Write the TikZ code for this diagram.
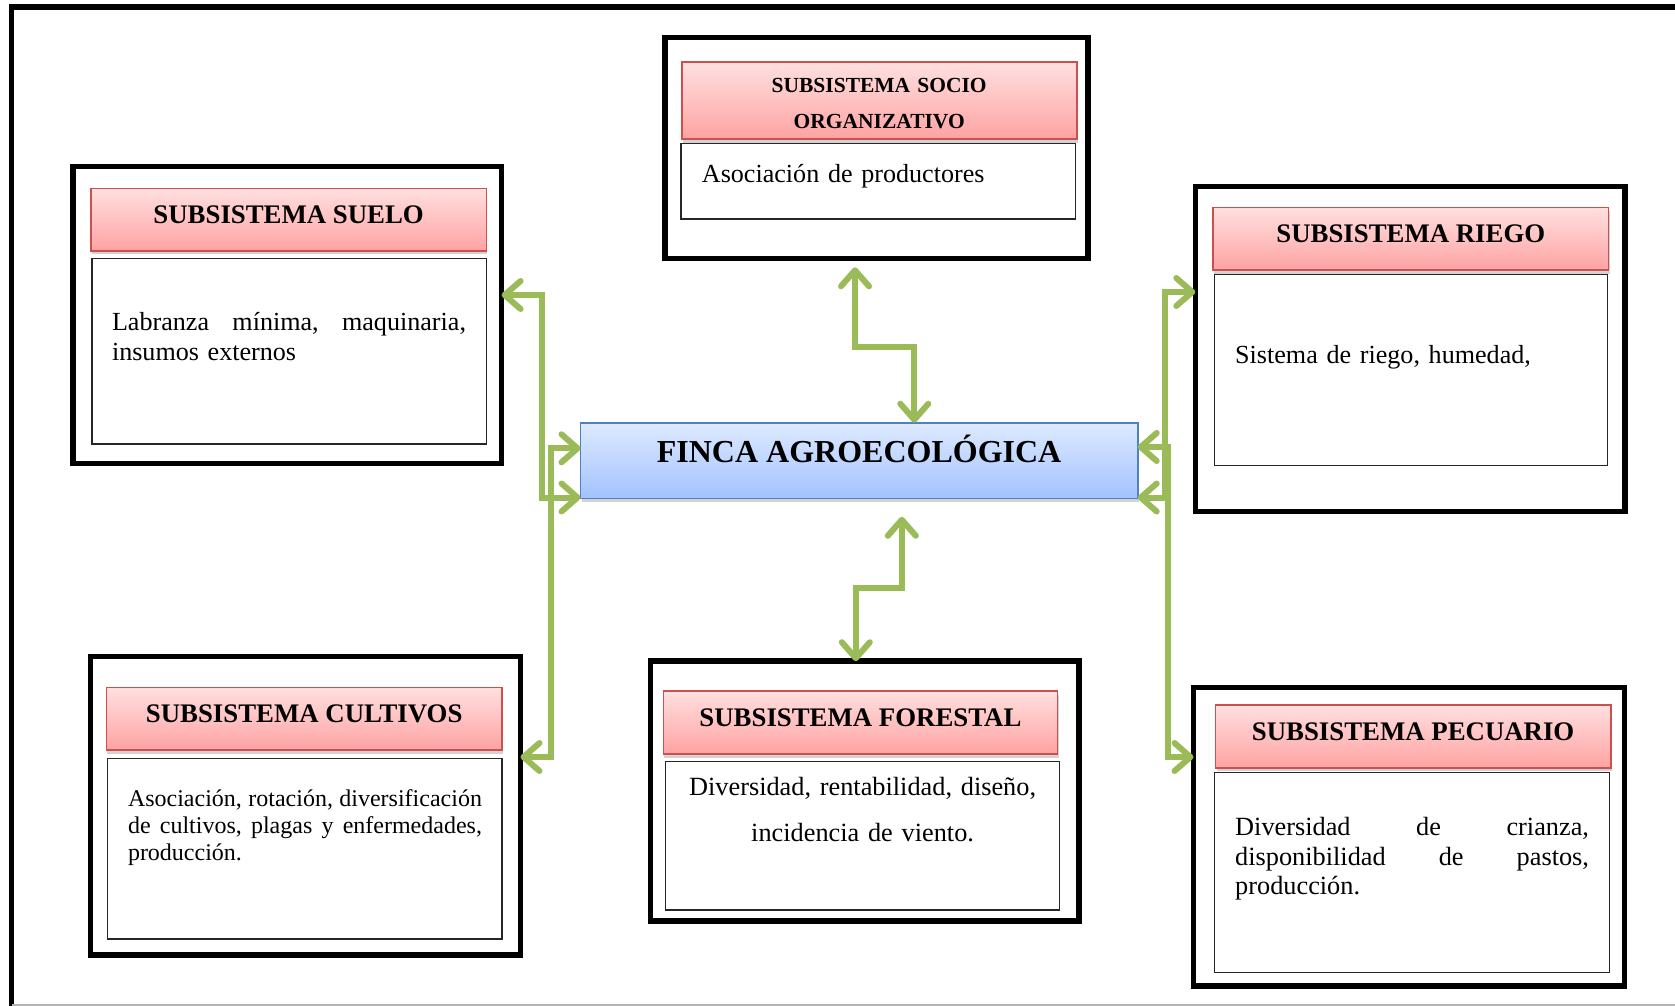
\documentclass[tikz,border=0pt]{standalone}
\usepackage{fontspec}
\setmainfont{Liberation Serif}
\usetikzlibrary{arrows.meta,shadows,calc}

\definecolor{hdtop}{RGB}{255,224,224}
\definecolor{hdbot}{RGB}{255,162,162}
\definecolor{hdline}{RGB}{204,80,78}
\definecolor{fktop}{RGB}{222,234,255}
\definecolor{fkbot}{RGB}{162,194,255}
\definecolor{fkline}{RGB}{79,129,189}
\definecolor{lnk}{RGB}{155,187,89}

% box from its top-left and bottom-right corners (y grows downwards)
\newcommand{\boxat}[6]{%
  \pgfmathsetmacro\bxw{#5-#3}%
  \pgfmathsetmacro\bxh{#6-#4}%
  \node[#1, anchor=north west, minimum width=\bxw pt, minimum height=\bxh pt] (#2) at (#3,#4) {};%
}

\tikzset{
  frameline/.style={line width=5.5pt, black},
  outerbox/.style={draw=black, line width=5.5pt, fill=white, inner sep=0pt, outer sep=0pt},
  headbox/.style={draw=hdline, line width=1.6pt, top color=hdtop, bottom color=hdbot,
    inner sep=0pt, outer sep=0pt,
    drop shadow={shadow xshift=1pt, shadow yshift=-3.5pt, opacity=.35}},
  bodybox/.style={draw=black!85, line width=1.3pt, fill=white, inner sep=0pt, outer sep=0pt},
  fincabox/.style={draw=fkline, line width=1.6pt, top color=fktop, bottom color=fkbot,
    inner sep=0pt, outer sep=0pt,
    drop shadow={shadow xshift=1pt, shadow yshift=-3.5pt, opacity=.35}},
  headtxt/.style={font=\fontsize{26.8}{32}\selectfont\bfseries, inner sep=0pt, anchor=base},
  bodytxt/.style={font=\fontsize{26.1}{30.5}\selectfont, inner sep=0pt, anchor=base west,
    align=left, text width=#1},
  barb/.tip={Straight Barb[length=16pt, width=28pt, round]},
  link/.style={draw=lnk, line width=6pt, line join=miter, barb-barb},
}

\begin{document}
\begin{tikzpicture}[x=1pt, y=-1pt]
\useasboundingbox (0,0) rectangle (1675,1006);

% page frame
\draw[frameline] (11.5,1006) -- (11.5,7) -- (1675,7);
\draw[gray!60, line width=1.5pt] (11.5,1005) -- (1675,1005);

% suelo
\boxat{outerbox}{sueloO}{73.2}{166.7}{501.6}{463.3}
\boxat{headbox}{sueloH}{91}{188.3}{486.3}{250.7}
\boxat{bodybox}{sueloB}{92}{258.3}{486.3}{444}
\node[headtxt] (sueloT) at ($(sueloH.north)+(0,35)$) {SUBSISTEMA SUELO};
\node[bodytxt=354pt] (sueloX) at (111.8,330)
  {Labranza\hfill mínima,\hfill maquinaria,\\insumos externos};

% socio organizativo
\boxat{outerbox}{socioO}{665}{37.3}{1088}{258.3}
\boxat{headbox}{socioH}{681.7}{62.3}{1076.7}{139.3}
\boxat{bodybox}{socioB}{681}{143.7}{1075.7}{219}
\node[headtxt, font=\fontsize{21.5}{36.4}\selectfont\bfseries, text width=380pt, align=center]
  (socioT) at ($(socioH.north)+(0,30)$) {SUBSISTEMA SOCIO\\ORGANIZATIVO};
\node[bodytxt=360pt] (socioX) at (701.7,182.7) {Asociación de productores};

% riego
\boxat{outerbox}{riegoO}{1195.3}{186.7}{1625}{511.7}
\boxat{headbox}{riegoH}{1213}{207.3}{1608.6}{270}
\boxat{bodybox}{riegoB}{1214.8}{274.3}{1607.5}{465.7}
\node[headtxt] (riegoT) at ($(riegoH.north)+(0,35)$) {SUBSISTEMA RIEGO};
\node[bodytxt=360pt] (riegoX) at (1235,363) {Sistema de riego, humedad,};

% finca
\boxat{fincabox}{fincaB}{580.5}{422.7}{1137.7}{498.3}
\node[headtxt, font=\fontsize{32}{36}\selectfont\bfseries] (fincaT)
  at ($(fincaB.north)+(0,40)$) {FINCA AGROECOLÓGICA};

% cultivos
\boxat{outerbox}{cultO}{90.3}{656.7}{520.5}{955}
\boxat{headbox}{cultH}{106.4}{687.3}{502}{750}
\boxat{bodybox}{cultB}{107.5}{758.3}{502}{939}
\node[headtxt] (cultT) at ($(cultH.north)+(0,35)$) {SUBSISTEMA CULTIVOS};
\node[bodytxt=354pt, font=\fontsize{24}{27.3}\selectfont] (cultX) at (127.8,806)
  {Asociación,\hfill rotación,\hfill diversificación\\de\hfill cultivos,\hfill plagas\hfill y\hfill enfermedades,\\producción.};

% forestal
\boxat{outerbox}{forestO}{650.5}{661.2}{1078.9}{920.8}
\boxat{headbox}{forestH}{663.4}{691}{1057.5}{754}
\boxat{bodybox}{forestB}{665.5}{761.6}{1059.7}{910}
\node[headtxt] (forestT) at ($(forestH.north)+(0,35)$) {SUBSISTEMA FORESTAL};
\node[headtxt, font=\fontsize{26.3}{46}\selectfont, text width=390pt, align=center]
  (forestX) at ($(forestB.north)+(0,33.4)$) {Diversidad, rentabilidad, diseño,\\incidencia de viento.};

% pecuario
\boxat{outerbox}{pecuO}{1193.5}{687.3}{1624.4}{986}
\boxat{headbox}{pecuH}{1215.5}{705}{1610.8}{767.7}
\boxat{bodybox}{pecuB}{1214.4}{772.7}{1609.7}{972.7}
\node[headtxt] (pecuT) at ($(pecuH.north)+(0,35)$) {SUBSISTEMA PECUARIO};
\node[bodytxt=353.8pt, font=\fontsize{26.3}{29.5}\selectfont] (pecuX) at (1235,835.7)
  {Diversidad\hfill de\hfill crianza,\\disponibilidad\hfill de\hfill pastos,\\producción.};

% connectors
\draw[link] ($(socioO.south -| 855,0)+(0,9)$) |- (914.3,346.7) -- (fincaB.north -| 914.3,0);
\draw[link] ($(fincaB.south -| 901.8,0)+(0,18.5)$) |- (855.8,588.3) -- (forestO.north -| 855.8,0);
\draw[link] (sueloO.east |- 0,295) -- (541.7,295) |- (fincaB.west |- 0,497.5);
\draw[link] (fincaB.west |- 0,448.3) -- (551,448.3) |- (cultO.east |- 0,757);
\draw[link] (riegoO.west |- 0,292) -- (1165,292) |- (fincaB.east |- 0,497.5);
\draw[link] (fincaB.east |- 0,447) -- (1167.5,447) |- (pecuO.west |- 0,757);
\end{tikzpicture}
\end{document}
